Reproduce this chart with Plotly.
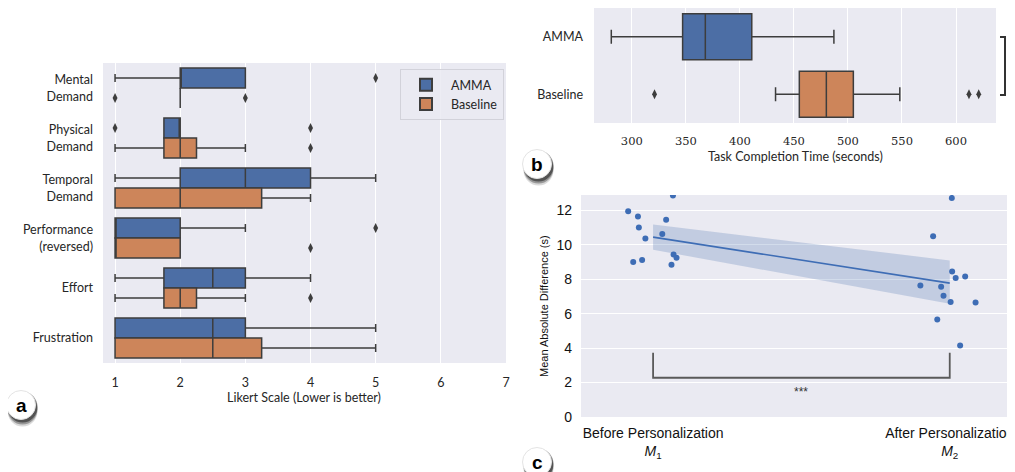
import plotly.graph_objects as go

OFF = 8  # page body margin of the rendered html
W, H = 1015 - OFF, 472 - OFF

# ---------------- Panel a data (Likert) ----------------
likert_categories = ["Mental<br>Demand", "Physical<br>Demand", "Temporal<br>Demand",
                     "Performance<br>(reversed)", "Effort", "Frustration"]
amma_low = [1, 1.75, 1, 1, 1, 1]
amma_q1 = [2, 1.75, 2, 1, 1.75, 1]
amma_med = [2, 2, 3, 1, 2.5, 2.5]
amma_q3 = [3, 2, 4, 2, 3, 3]
amma_high = [3, 2, 5, 3, 4, 5]
base_low = [2, 1, 1, 1, 1, 1]
base_q1 = [2, 1.75, 1, 1, 1.75, 1]
base_med = [2, 2, 2, 1, 2, 2.5]
base_q3 = [2, 2.25, 3.25, 2, 2.25, 3.25]
base_high = [2, 3, 4, 2, 3, 5]
amma_out_cat = [0, 1, 1, 3]
amma_out_val = [5, 1, 4, 5]
base_out_cat = [0, 0, 1, 3, 4]
base_out_val = [1, 3, 4, 4, 4]
likert_ticks = [1, 2, 3, 4, 5, 6, 7]

# ---------------- Panel b data (task completion time) ----------------
tct_labels = ["AMMA", "Baseline"]
tct_low = [281, 433]
tct_q1 = [347, 455]
tct_med = [368, 480]
tct_q3 = [411, 505]
tct_high = [487, 548]
tct_out_cat = [1, 1, 1]
tct_out_val = [321, 612, 621]
tct_ticks = [300, 350, 400, 450, 500, 550, 600]

# ---------------- Panel c data (mean absolute difference) ----------------
m1_x = [-0.084, -0.051, -0.048, -0.026, -0.067, -0.037, 0.067, 0.044, 0.031, 0.069, 0.079, 0.062]
m1_y = [11.96, 11.65, 11.01, 10.37, 9.00, 9.13, 12.87, 11.46, 10.63, 9.44, 9.25, 8.84]
m2_x = [1.007, 0.944, 1.008, 1.020, 1.052, 0.901, 0.971, 0.979, 1.003, 1.087, 0.958, 1.035]
m2_y = [12.73, 10.51, 8.46, 8.07, 8.17, 7.64, 7.57, 7.04, 6.68, 6.66, 5.67, 4.16]
reg_x = [0, 1]
reg_y = [10.45, 7.78]
ci_upper = [11.19, 9.10]
ci_lower = [9.72, 6.58]
sig_bracket_top = 3.73
sig_bracket_bottom = 2.28
sig_label = "***"
sig_label_y = 1.45
c_ticktext = ["Before Personalization<br><i>M</i><sub>1</sub>",
              "After Personalization<br><i>M</i><sub>2</sub>"]
c_yticks = [0, 2, 4, 6, 8, 10, 12]

BLUE = "#4C6EA5"
ORANGE = "#CD855A"
LINE = "#3d3d3d"
BG = "#EAEAF2"
TXT = "#262626"
SANS = "Lato, 'DejaVu Sans', sans-serif"
ARIAL = "'Liberation Sans', Arial, sans-serif"
SERIF = "'DejaVu Serif', 'Liberation Serif', serif"


def px(x):
    return (x - OFF) / W


def py(y):
    return min(1.0, 1 - (y - OFF) / H)


fig = go.Figure()

# ---- Panel a boxes
n = len(likert_categories)
amma_pos = [i - 0.2 for i in range(n)]
base_pos = [i + 0.2 for i in range(n)]
fig.add_trace(go.Box(name="AMMA", y=amma_pos, q1=amma_q1, median=amma_med, q3=amma_q3,
                     lowerfence=amma_low, upperfence=amma_high, orientation="h", width=0.4,
                     fillcolor=BLUE, line=dict(color=LINE, width=1.5), whiskerwidth=0.4,
                     boxpoints=False, xaxis="x", yaxis="y", showlegend=True))
fig.add_trace(go.Box(name="Baseline", y=base_pos, q1=base_q1, median=base_med, q3=base_q3,
                     lowerfence=base_low, upperfence=base_high, orientation="h", width=0.4,
                     fillcolor=ORANGE, line=dict(color=LINE, width=1.5), whiskerwidth=0.4,
                     boxpoints=False, xaxis="x", yaxis="y", showlegend=True))
fig.add_trace(go.Scatter(x=amma_out_val, y=[c - 0.2 for c in amma_out_cat], mode="markers",
                         marker=dict(symbol="diamond-tall", size=7, color=LINE),
                         xaxis="x", yaxis="y", showlegend=False, hoverinfo="skip"))
fig.add_trace(go.Scatter(x=base_out_val, y=[c + 0.2 for c in base_out_cat], mode="markers",
                         marker=dict(symbol="diamond-tall", size=7, color=LINE),
                         xaxis="x", yaxis="y", showlegend=False, hoverinfo="skip"))

# ---- Panel b boxes
for i, col in enumerate([BLUE, ORANGE]):
    fig.add_trace(go.Box(name=tct_labels[i], y=[i], q1=[tct_q1[i]], median=[tct_med[i]],
                         q3=[tct_q3[i]], lowerfence=[tct_low[i]], upperfence=[tct_high[i]],
                         orientation="h", width=0.8, fillcolor=col,
                         line=dict(color=LINE, width=1.5), whiskerwidth=0.3,
                         boxpoints=False, xaxis="x2", yaxis="y2", showlegend=False))
fig.add_trace(go.Scatter(x=tct_out_val, y=tct_out_cat, mode="markers",
                         marker=dict(symbol="diamond-tall", size=7, color=LINE),
                         xaxis="x2", yaxis="y2", showlegend=False, hoverinfo="skip"))

# ---- Panel c
fig.add_trace(go.Scatter(x=reg_x + reg_x[::-1], y=ci_upper + ci_lower[::-1], fill="toself",
                         mode="lines", line=dict(width=0), fillcolor="rgba(76,114,176,0.25)",
                         xaxis="x3", yaxis="y3", showlegend=False, hoverinfo="skip"))
fig.add_trace(go.Scatter(x=reg_x, y=reg_y, mode="lines", line=dict(color="#3E6DB5", width=1.6),
                         xaxis="x3", yaxis="y3", showlegend=False))
fig.add_trace(go.Scatter(x=m1_x + m2_x, y=m1_y + m2_y, mode="markers",
                         marker=dict(color="#3E6DB5", size=6),
                         xaxis="x3", yaxis="y3", showlegend=False))
fig.add_trace(go.Scatter(x=[reg_x[0], reg_x[0], reg_x[1], reg_x[1]],
                         y=[sig_bracket_top, sig_bracket_bottom, sig_bracket_bottom, sig_bracket_top],
                         mode="lines", line=dict(color="#5a5a5a", width=1.8),
                         xaxis="x3", yaxis="y3", showlegend=False, hoverinfo="skip"))

axis_common = dict(showline=False, zeroline=False, gridcolor="white", gridwidth=1,
                   ticks="", fixedrange=True, automargin=False)

fig.update_layout(
    width=W, height=H, margin=dict(l=0, r=0, t=0, b=0, autoexpand=False),
    paper_bgcolor="white", plot_bgcolor=BG,
    font=dict(family=SANS, size=12, color=TXT),
    boxmode="overlay",
    xaxis=dict(domain=[px(103), px(506)], range=[0.815, 7.0], tickvals=likert_ticks,
               showgrid=True, anchor="y", ticklabelstandoff=10,
               tickfont=dict(family=SANS, size=12.5, color=TXT), **axis_common),
    yaxis=dict(domain=[py(363), py(63)], range=[n - 0.5, -0.5], tickvals=list(range(n)),
               ticktext=likert_categories, showgrid=False, anchor="x", ticklabelstandoff=9,
               tickfont=dict(family=SANS, size=12.5, color=TXT), **axis_common),
    xaxis2=dict(domain=[px(594), px(996)], range=[265, 637], tickvals=tct_ticks,
                showgrid=True, anchor="y2", ticklabelstandoff=9,
                tickfont=dict(family=SERIF, size=11.5, color=TXT), **axis_common),
    yaxis2=dict(domain=[py(123), py(7)], range=[1.5, -0.5], tickvals=[0, 1],
                ticktext=tct_labels, showgrid=False, anchor="x2", ticklabelstandoff=10,
                tickfont=dict(family=SANS, size=12.5, color=TXT), **axis_common),
    xaxis3=dict(domain=[px(581), 1.0], range=[-0.243, 1.22], tickvals=[0, 1],
                ticktext=c_ticktext, showgrid=False, anchor="y3", ticklabelstandoff=6,
                tickfont=dict(family=ARIAL, size=14, color="#111"), **axis_common),
    yaxis3=dict(domain=[py(417), py(195)], range=[0, 12.9], tickvals=c_yticks,
                showgrid=True, anchor="x3", ticklabelstandoff=8,
                tickfont=dict(family=ARIAL, size=14, color="#111"), **axis_common),
    legend=dict(x=px(400), y=py(69), xanchor="left", yanchor="top",
                bgcolor="rgba(234,234,242,0.85)", bordercolor="#d2d2da", borderwidth=1,
                font=dict(family=SANS, size=12.5, color=TXT), tracegroupgap=0,
                itemsizing="constant", itemwidth=40),
)

annotations = [
    dict(text="Likert Scale (Lower is better)", x=px(304), y=py(397), xref="paper", yref="paper",
         xanchor="center", yanchor="middle", showarrow=False,
         font=dict(family=SANS, size=12.5, color=TXT)),
    dict(text="Task Completion Time (seconds)", x=px(795), y=py(157), xref="paper", yref="paper",
         xanchor="center", yanchor="middle", showarrow=False,
         font=dict(family=SANS, size=12.5, color=TXT)),
    dict(text="Mean Absolute Difference (s)", x=px(544), y=py(306), xref="paper", yref="paper",
         xanchor="center", yanchor="middle", showarrow=False, textangle=-90,
         font=dict(family=ARIAL, size=11, color="#111")),
    dict(text=sig_label, x=0.5, y=sig_label_y, xref="x3", yref="y3", showarrow=False,
         xanchor="center", yanchor="middle", font=dict(family=ARIAL, size=12, color="#333")),
]

shapes = []
# bracket at right of panel b (pulled slightly inward so it stays inside the visible page)
shapes.append(dict(type="path", xref="paper", yref="paper",
                   path="M %f %f L %f %f L %f %f L %f %f" % (px(1000), py(37), px(1005), py(37),
                                                             px(1005), py(95), px(1000), py(95)),
                   line=dict(color="#333", width=2)))

# panel badges
for label, cx, cy in [("a", 21, 405), ("b", 537, 164), ("c", 537, 462)]:
    r = 14.5
    for dy, alpha in [(7, 0.15), (5, 0.3), (3, 0.45)]:
        shapes.append(dict(type="circle", xref="paper", yref="paper",
                           x0=px(cx - r + 1), x1=px(cx + r + 2), y0=py(cy + r + dy), y1=py(cy - r + dy - 2),
                           fillcolor="rgba(0,0,0,%s)" % alpha, line=dict(width=0)))
    shapes.append(dict(type="circle", xref="paper", yref="paper",
                       x0=px(cx - r), x1=px(cx + r), y0=py(cy + r), y1=py(cy - r),
                       fillcolor="white", line=dict(color="#e4e4e4", width=1)))
    annotations.append(dict(text="<b>%s</b>" % label, x=px(cx), y=py(cy), xref="paper", yref="paper",
                            xanchor="center", yanchor="middle", showarrow=False,
                            font=dict(family=ARIAL, size=19, color="black")))

fig.update_layout(annotations=annotations, shapes=shapes)

fig.write_html("out.html")
